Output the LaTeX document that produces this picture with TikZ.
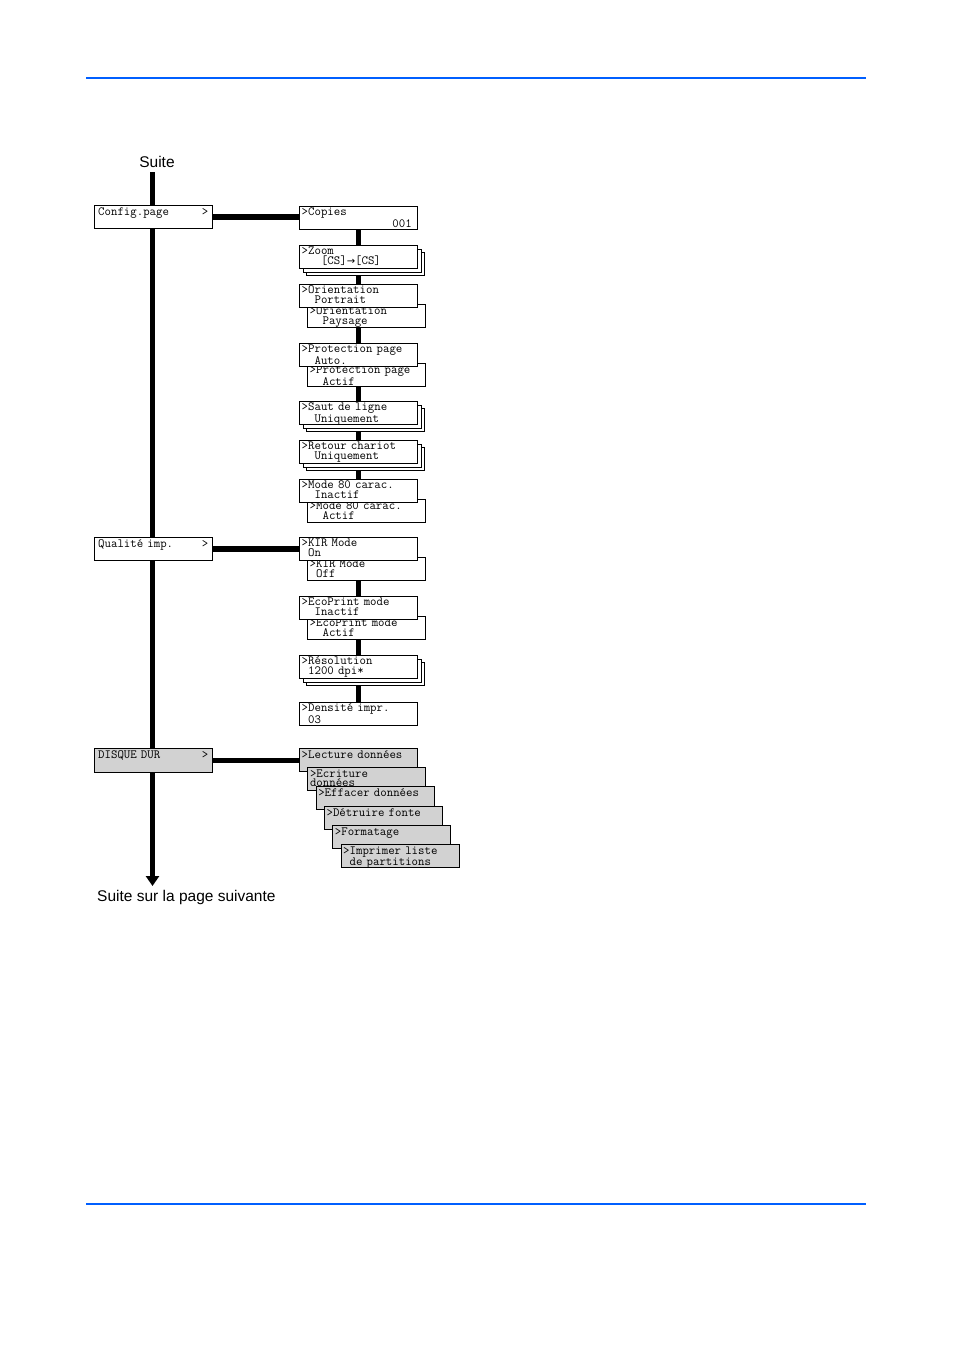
\documentclass[tikz,border=0pt]{standalone}
\usepackage{fontspec}
\usepackage{tikz}
\usetikzlibrary{arrows.meta}
\newfontfamily\labelfont{Liberation Sans}
\newfontfamily\arrowfont{DejaVu Sans}
\definecolor{ruleblue}{RGB}{0,95,255}
\definecolor{diskgray}{RGB}{210,210,210}
\newcommand{\lcdfont}{\fontsize{12.5}{9.3}\selectfont\ttfamily}
\newcommand{\pushright}{\hskip 0pt plus 1filll}
\newcommand{\gap}{\phantom{0}}
\newcommand{\lcdbox}[4]{
\node[lcd] (#1) at (#2,#3) {};
\node[lcdtext] (#1-t) at ([shift={(2.5,2)}]#1.north west) {#4};
}
\newcommand{\stackbox}[4]{
\node[lcd] (#1-s2) at (#2+7,#3+7) {};
\node[lcd] (#1-s1) at (#2+3.5,#3+3.5) {};
\lcdbox{#1}{#2}{#3}{#4}
}
\newcommand{\pairbox}[5]{
\node[lcd] (#1-b) at (#2+8,#3+19.5) {};
\node[lcdtext] (#1-bt) at ([shift={(2.5,3.5)}]#1-b.north west) {#5};
\lcdbox{#1}{#2}{#3}{#4}
}

\begin{document}
\begin{tikzpicture}[x=1pt, y=-1pt,
    lcd/.style={draw, line width=0.9pt, fill=white, minimum width=118pt,
        minimum height=23pt, inner sep=0pt, anchor=north west},
    lcdtext/.style={anchor=north west, inner sep=0pt, align=left,
        text width=110pt, font=\lcdfont},
    bar/.style={line width=5.5pt},
    rule/.style={ruleblue, line width=1.3pt},
    pagelabel/.style={inner sep=0pt, font=\labelfont\fontsize{15.5}{18}\selectfont}]
    \useasboundingbox (0,0) rectangle (954,1350);
    \draw[rule] (86,78) -- (866,78);
    \draw[rule] (86,1204) -- (866,1204);

    \node[pagelabel] (suite) at (157,162) {Suite};
    \node[pagelabel, anchor=west] (next) at (97,897) {Suite sur la page suivante};
    \coordinate (spine top) at (152.5,172);
    \coordinate (spine end) at (152.5,886);
    \draw[bar, -{Triangle[length=10pt,width=13pt]}] (spine top) -- (spine end);

    \node[lcd] (config) at (94,205) {};
    \node[lcdtext] (config-t) at ([shift={(4,2.5)}]config.north west) {Config.page\pushright>};
    \node[lcd] (quality) at (94,537) {};
    \node[lcdtext] (quality-t) at ([shift={(4,2.5)}]quality.north west) {Qualité imp.\pushright>};
    \node[lcd, fill=diskgray, minimum height=24pt] (disk) at (94,748) {};
    \node[lcdtext] (disk-t) at ([shift={(4,2.5)}]disk.north west) {DISQUE DUR\pushright>};

    \lcdbox{copies}{299}{206}{>Copies\\\pushright 001}
    \stackbox{zoom}{299}{245}{>Zoom\\\gap\gap\gap[CS]{\arrowfont\fontsize{10}{8}\selectfont →}[CS]}
    \pairbox{orient}{299}{284}{>Orientation\\\gap\gap Portrait}{>Orientation\\\gap\gap Paysage}
    \pairbox{prot}{299}{343}{>Protection page\\\gap\gap Auto.}{>Protection page\\\gap\gap Actif}
    \stackbox{saut}{299}{401}{>Saut de ligne\\\gap\gap Uniquement}
    \stackbox{retour}{299}{440}{>Retour chariot\\\gap\gap Uniquement}
    \pairbox{mode}{299}{479}{>Mode 80 carac.\\\gap\gap Inactif}{>Mode 80 carac.\\\gap\gap Actif}
    \pairbox{kir}{299}{537}{>KIR Mode\\\gap On}{>KIR Mode\\\gap Off}
    \pairbox{eco}{299}{596}{>EcoPrint mode\\\gap\gap Inactif}{>EcoPrint mode\\\gap\gap Actif}
    \stackbox{resol}{299}{655}{>Résolution\\\gap 1200 dpi*}
    \lcdbox{dens}{299}{702}{>Densité impr.\\\gap 03}

    \foreach \name/\txt [count=\i from 0] in {lecture/{>Lecture données},
        ecriture/{>Ecriture\\données}, effacer/{>Effacer données},
        detruire/{>Détruire fonte}, format/{>Formatage},
        imprimer/{>Imprimer liste\\\gap de partitions}}
    {
        \node[lcd, fill=diskgray] (\name) at (299+8.3*\i,748+19.2*\i) {};
        \node[lcdtext] (\name-t) at ([shift={(2.5,2.5)}]\name.north west) {\txt};
    }

    \draw[bar] (config.east) -- (config.east -| copies.west);
    \draw[bar] (quality.east) -- (quality.east -| kir.west);
    \draw[bar] (disk.east) -- (disk.east -| lecture.west);
    \foreach \a/\b in {copies/zoom, zoom-s2/orient, orient-b/prot, prot-b/saut,
        saut-s2/retour, retour-s2/mode, kir-b/eco, eco-b/resol, resol-s2/dens}
        \draw[bar] (\b.north |- \a.south) -- (\b.north);
\end{tikzpicture}
\end{document}
